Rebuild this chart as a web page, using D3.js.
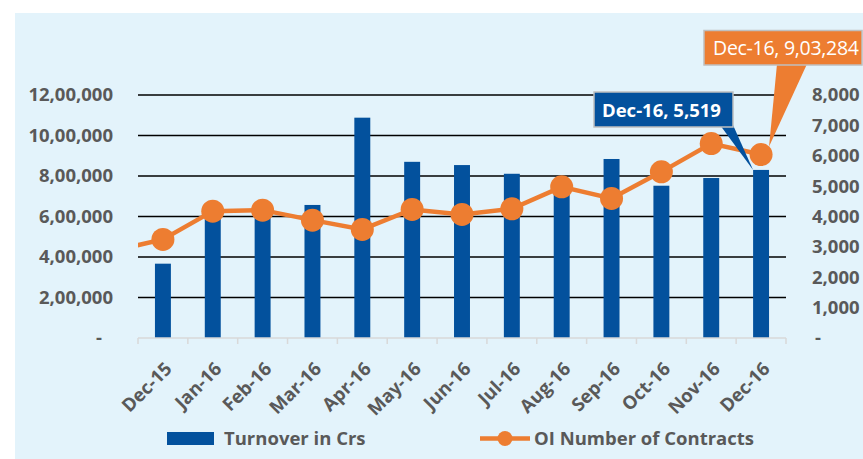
<!DOCTYPE html>
<html>
<head>
<meta charset="utf-8">
<script src="https://cdn.jsdelivr.net/npm/d3@7"></script>
<style>
  body { margin: 0; background: #fff; }
  text { font-family: "Open Sans", "Liberation Sans", sans-serif; }
</style>
</head>
<body>
<div class="CHART"></div>
<script>
// data
var months = ["Dec-15", "Jan-16", "Feb-16", "Mar-16", "Apr-16", "May-16", "Jun-16",
              "Jul-16", "Aug-16", "Sep-16", "Oct-16", "Nov-16", "Dec-16"];
var turnover = [367000, 610000, 615000, 657000, 1088000, 870000, 854000,
                811000, 760000, 884000, 752000, 790000, 830000];
var oiContracts = [3245, 4176, 4209, 3880, 3574, 4232, 4067,
                   4253, 4976, 4593, 5470, 6401, 6040];
// month before Dec-15, only its segment shows (clipped at the axis)
var oiBefore = 2870;
var leftTicks = [0, 200000, 400000, 600000, 800000, 1000000, 1200000];
var rightTicks = [0, 1000, 2000, 3000, 4000, 5000, 6000, 7000, 8000];
var barCallout = "Dec-16, 5,519";
var lineCallout = "Dec-16, 9,03,284";
var legendNames = ["Turnover in Crs", "OI Number of Contracts"];

var W = 863, H = 459;
var plot = {left: 138, right: 786, top: 95, bottom: 338};
var blue = "#03519d", orange = "#ed7d31", grey = "#595959";

var svg = d3.select(".CHART").append("svg")
    .attr("width", W)
    .attr("height", H);

// light blue backdrop
svg.append("rect")
    .attr("x", 15).attr("y", 13)
    .attr("width", W - 15).attr("height", H - 13)
    .attr("fill", "#e3f3fb");

var x = d3.scaleBand()
    .domain(months)
    .range([plot.left, plot.right])
    .paddingInner(0.68)
    .paddingOuter(0.34);
var step = x.step();
function cx(m) { return x(m) + x.bandwidth() / 2; }

var yL = d3.scaleLinear().domain([0, 1200000]).range([plot.bottom, plot.top]);
var yR = d3.scaleLinear().domain([0, 8000]).range([plot.bottom, plot.top]);

// indian style grouping 12,00,000
function indian(v) {
  if (v === 0) return "-";
  var s = String(v);
  var last = s.slice(-3), rest = s.slice(0, -3);
  if (rest.length) rest = rest.replace(/\B(?=(\d{2})+(?!\d))/g, ",") + ",";
  return rest + last;
}

// gridlines
svg.append("g").selectAll("line")
    .data(leftTicks.filter(function(d) { return d > 0; }))
    .enter().append("line")
    .attr("x1", plot.left).attr("x2", plot.right)
    .attr("y1", function(d) { return yL(d); })
    .attr("y2", function(d) { return yL(d); })
    .attr("stroke", "#000").attr("stroke-width", 1.6);

// left axis
var gL = svg.append("g")
    .attr("transform", "translate(" + plot.left + ",0)")
    .call(d3.axisLeft(yL).tickValues(leftTicks).tickSize(0).tickPadding(25).tickFormat(indian));
gL.select(".domain").remove();
gL.selectAll("text")
    .attr("fill", grey).attr("font-size", 18.5).attr("font-weight", 700)
    .style("font-family", "Open Sans")
    .attr("dx", function(d) { return d === 0 ? -11 : 0; });

// right axis
var gR = svg.append("g")
    .attr("transform", "translate(" + plot.right + ",0)")
    .call(d3.axisRight(yR).tickValues(rightTicks).tickSize(0).tickPadding(26)
      .tickFormat(function(d) { return d === 0 ? "-" : d3.format(",")(d); }));
gR.select(".domain").remove();
gR.selectAll("text")
    .attr("fill", grey).attr("font-size", 18.5).attr("font-weight", 700)
    .style("font-family", "Open Sans")
    .attr("dx", function(d) { return d === 0 ? 3 : 0; });

// bars
svg.append("g").selectAll("rect")
    .data(months)
    .enter().append("rect")
    .attr("x", function(d) { return x(d); })
    .attr("width", x.bandwidth())
    .attr("y", function(d, i) { return yL(turnover[i]); })
    .attr("height", function(d, i) { return plot.bottom - yL(turnover[i]); })
    .attr("fill", blue);

// category axis
var gx = svg.append("g");
gx.append("line")
    .attr("x1", plot.left).attr("x2", plot.right)
    .attr("y1", plot.bottom).attr("y2", plot.bottom)
    .attr("stroke", "#d9d9d9").attr("stroke-width", 1.5);
gx.selectAll(".tk")
    .data(d3.range(months.length + 1))
    .enter().append("line")
    .attr("x1", function(i) { return plot.left + i * step; })
    .attr("x2", function(i) { return plot.left + i * step; })
    .attr("y1", plot.bottom).attr("y2", plot.bottom + 6)
    .attr("stroke", "#d9d9d9").attr("stroke-width", 1.5);
gx.selectAll(".lbl")
    .data(months)
    .enter().append("text")
    .attr("transform", function(d) { return "translate(" + (cx(d) + 10) + "," + (plot.bottom + 32) + ") rotate(-45)"; })
    .attr("text-anchor", "end")
    .attr("fill", grey).attr("font-size", 18.5).attr("font-weight", 700)
    .text(function(d) { return d; });

// line, with the segment from the previous month clipped at the axis
svg.append("clipPath").attr("id", "plotclip")
  .append("rect")
    .attr("x", plot.left).attr("y", 0)
    .attr("width", plot.right - plot.left).attr("height", H);

var linePts = [[cx(months[0]) - step, yR(oiBefore)]].concat(
    months.map(function(m, i) { return [cx(m), yR(oiContracts[i])]; }));
svg.append("path")
    .datum(linePts)
    .attr("clip-path", "url(#plotclip)")
    .attr("d", d3.line())
    .attr("fill", "none")
    .attr("stroke", orange)
    .attr("stroke-width", 4.5);

svg.append("g").selectAll("circle")
    .data(months)
    .enter().append("circle")
    .attr("cx", function(d) { return cx(d); })
    .attr("cy", function(d, i) { return yR(oiContracts[i]); })
    .attr("r", 11.5)
    .attr("fill", orange);

// callouts
var last = months.length - 1;
var mx = cx(months[last]), my = yR(oiContracts[last]);
var orangeTip = [mx + 8, my - 8];
var barTip = [x(months[last]), yL(turnover[last])];

var co = svg.append("g");
co.append("path")
    .attr("d", d3.line()([[777, 64], [807, 64], orangeTip]))
    .attr("fill", orange);
co.append("rect")
    .attr("x", 704).attr("y", 30.5).attr("width", 158).attr("height", 34.5)
    .attr("fill", orange).attr("stroke", "#bfbfbf").attr("stroke-width", 1.5);
co.append("text")
    .attr("x", 713).attr("y", 55)
    .attr("fill", "#fff").attr("font-size", 19.5)
    .attr("textLength", 146)
    .text(lineCallout);

co.append("path")
    .attr("d", d3.line()([[720, 125], [733, 125], barTip]))
    .attr("fill", blue);
co.append("rect")
    .attr("x", 594).attr("y", 92).attr("width", 139).attr("height", 35)
    .attr("fill", blue).attr("stroke", "#bfbfbf").attr("stroke-width", 1.5);
co.append("text")
    .attr("x", 602).attr("y", 117)
    .attr("fill", "#fff").attr("font-size", 18.5).attr("font-weight", 700)
    .text(barCallout);

// legend
var lg = svg.append("g");
lg.append("rect")
    .attr("x", 167).attr("y", 432).attr("width", 47).attr("height", 13)
    .attr("fill", blue);
lg.append("text")
    .attr("x", 224).attr("y", 445)
    .attr("fill", grey).attr("font-size", 18.5).attr("font-weight", 700)
    .text(legendNames[0]);
lg.append("line")
    .attr("x1", 480).attr("x2", 530).attr("y1", 438.5).attr("y2", 438.5)
    .attr("stroke", orange).attr("stroke-width", 4.5);
lg.append("circle")
    .attr("cx", 505).attr("cy", 438.5).attr("r", 7.5)
    .attr("fill", orange);
lg.append("text")
    .attr("x", 534).attr("y", 445)
    .attr("fill", grey).attr("font-size", 18.5).attr("font-weight", 700)
    .text(legendNames[1]);
</script>
</body>
</html>
